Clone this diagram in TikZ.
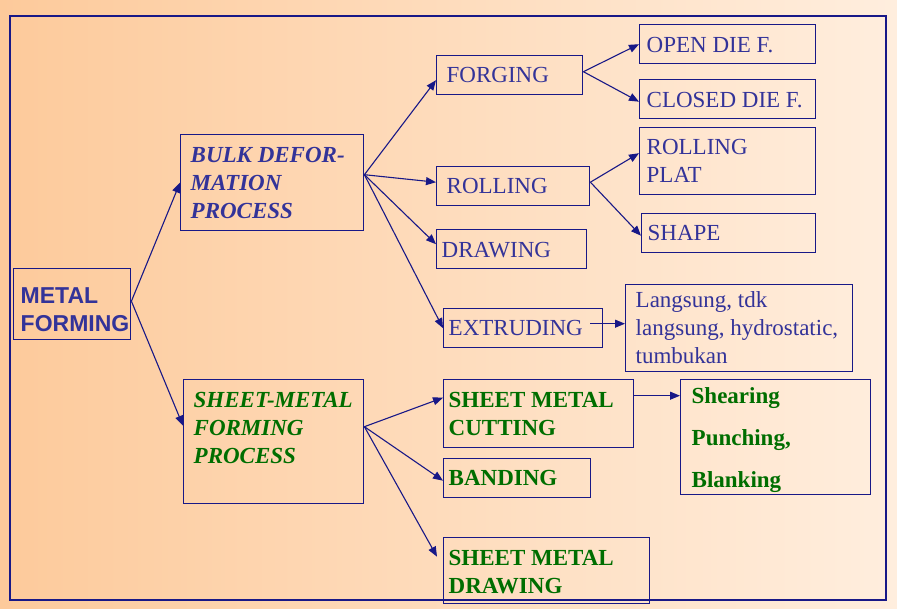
\documentclass[tikz,border=0pt]{standalone}
\usepackage{fontspec}
\setmainfont{Liberation Serif}
\newfontfamily\arialfont{Liberation Sans}
\usetikzlibrary{arrows.meta}
\definecolor{linec}{RGB}{24,24,135}
\definecolor{tblue}{RGB}{51,51,153}
\definecolor{tgreen}{RGB}{0,110,0}
\definecolor{bgl}{RGB}{253,202,155}
\definecolor{bgr}{RGB}{255,238,222}
\newcommand\mylines[3]{\begin{minipage}[t]{#1}\fontsize{23}{#2}\selectfont #3\end{minipage}}
\tikzset{
  box/.style={draw=linec, line width=1.4pt, inner ysep=0pt, anchor=north west},
  arr/.style={draw=linec, line width=1.1pt, -{Triangle[length=10pt,width=8pt]}},
  bluet/.style={text=tblue},
  greent/.style={text=tgreen}
}
\begin{document}
\begin{tikzpicture}[x=1pt,y=-1pt]
\shade[left color=bgl, right color=bgr] (0,0) rectangle (897,609);
\useasboundingbox (0,0) rectangle (897,609);
\draw[linec, line width=1.4pt] (10,16) rectangle (886,600);

\node[box, bluet, inner xsep=7pt, text height=35pt, text depth=36pt] (metal) at (13,268)
  {\mylines{103pt}{28}{\arialfont\bfseries METAL\\FORMING}};
\node[box, bluet, inner xsep=10pt, text height=28pt, text depth=68pt] (bulk) at (180,134)
  {\mylines{163pt}{28}{\bfseries\itshape BULK DEFOR-\\MATION\\PROCESS}};
\node[box, greent, inner xsep=10pt, text height=28pt, text depth=96pt] (sheet) at (183,379)
  {\mylines{160pt}{28}{\bfseries\itshape SHEET-METAL\\FORMING\\PROCESS}};

\node[box, bluet, inner xsep=10pt, text height=27pt, text depth=12pt] (forging) at (436,55)
  {\mylines{126pt}{28}{FORGING}};
\node[box, bluet, inner xsep=10pt, text height=27pt, text depth=12pt] (rolling) at (436,166)
  {\mylines{133pt}{28}{ROLLING}};
\node[box, bluet, inner xsep=5pt, text height=28pt, text depth=11pt] (drawing) at (436,229)
  {\mylines{140pt}{28}{DRAWING}};
\node[box, bluet, inner xsep=5pt, text height=27pt, text depth=12pt] (extr) at (443,308)
  {\mylines{149pt}{28}{EXTRUDING}};

\node[box, bluet, inner xsep=7pt, text height=28pt, text depth=11pt] (open) at (639,24)
  {\mylines{162pt}{28}{OPEN DIE F.}};
\node[box, bluet, inner xsep=7pt, text height=28pt, text depth=11pt] (closed) at (639,79)
  {\mylines{162pt}{28}{CLOSED DIE F.}};
\node[box, bluet, inner xsep=7pt, text height=27pt, text depth=40pt] (rplat) at (639,127)
  {\mylines{162pt}{28}{ROLLING\\PLAT}};
\node[box, bluet, inner xsep=6pt, text height=27pt, text depth=12pt] (shape) at (641,213)
  {\mylines{162pt}{28}{SHAPE}};
\node[box, bluet, inner xsep=10pt, text height=23pt, text depth=64pt] (lang) at (625,284)
  {\mylines{207pt}{28}{Langsung, tdk\\langsung, hydrostatic,\\tumbukan}};

\node[box, greent, inner xsep=5pt, text height=28pt, text depth=40pt] (cut) at (443,379)
  {\mylines{180pt}{28}{\bfseries SHEET METAL\\CUTTING}};
\node[box, greent, inner xsep=5pt, text height=27pt, text depth=12pt] (band) at (443,458)
  {\mylines{137pt}{28}{\bfseries BANDING}};
\node[box, greent, inner xsep=5pt, text height=28pt, text depth=38pt] (sdraw) at (443,537)
  {\mylines{196pt}{28}{\bfseries SHEET METAL\\DRAWING}};
\node[box, greent, inner xsep=11pt, text height=24pt, text depth=91pt] (shear) at (680,379)
  {\mylines{168pt}{42}{\bfseries Shearing\\Punching,\\Blanking}};

\draw[arr] ([yshift=3pt]metal.east) -- (bulk.west);
\draw[arr] ([yshift=3pt]metal.east) -- ([yshift=16pt]sheet.west);

\draw[arr] ([yshift=8pt]bulk.east) -- ([yshift=-5pt]forging.west);
\draw[arr] ([yshift=8pt]bulk.east) -- ([yshift=4pt]rolling.west);
\draw[arr] ([yshift=8pt]bulk.east) -- ([yshift=5pt]drawing.west);
\draw[arr] ([yshift=8pt]bulk.east) -- (extr.west);

\draw[arr] ([yshift=3.5pt]forging.east) -- (open.west);
\draw[arr] ([yshift=3.5pt]forging.east) -- ([yshift=-2.5pt]closed.west);
\draw[arr] ([yshift=4pt]rolling.east) -- ([yshift=8pt]rplat.west);
\draw[arr] ([yshift=4pt]rolling.east) -- ([yshift=-2.5pt]shape.west);
\draw[arr] ([xshift=-13pt,yshift=4.5pt]extr.east) -- ([yshift=4.5pt]lang.west);

\draw[arr] ([yshift=15pt]sheet.east) -- ([yshift=16pt]cut.west);
\draw[arr] ([yshift=15pt]sheet.east) -- ([yshift=-2.5pt]band.west);
\draw[arr] ([yshift=15pt]sheet.east) -- ([xshift=-6pt,yshift=14pt]sdraw.west);
\draw[arr] ([yshift=18pt]cut.east) -- ([yshift=41.5pt]shear.west);
\end{tikzpicture}
\end{document}
